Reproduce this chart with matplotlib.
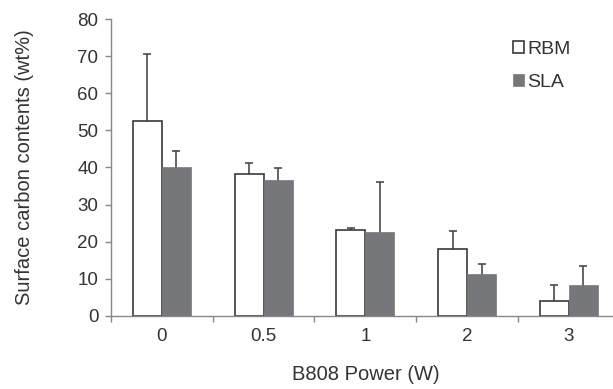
import numpy as np
import matplotlib.pyplot as plt
from matplotlib.ticker import FixedLocator

plt.rcParams['font.family'] = ['Liberation Sans', 'DejaVu Sans']

powers = ['0', '0.5', '1', '2', '3']
rbm = [52.5, 38.3, 23.2, 17.9, 4.0]
rbm_err = [18.1, 3.0, 0.4, 5.1, 4.4]
sla = [40.2, 36.6, 22.5, 11.4, 8.2]
sla_err = [4.2, 3.2, 13.7, 2.5, 5.3]

fig = plt.figure(figsize=(6.13, 3.89), dpi=100)
ax = fig.add_axes([0.181, 0.188, 0.83, 0.763])

x = np.arange(len(powers))
w = 0.285
txt = '#333333'
edge = '#3a3a3a'
ecol = '#4a4a4a'
ekw = dict(fmt='none', ecolor=ecol, elinewidth=1.2, capsize=3, capthick=1.2, zorder=1)

ax.bar(x - w / 2, rbm, w, color='white', edgecolor=edge, linewidth=1.2, label='RBM', zorder=2)
ax.bar(x + w / 2, sla, w, color='#76777b', edgecolor='#76777b', linewidth=0.5, label='SLA', zorder=2)
# only the upper half of each error bar shows, the rest sits behind the bar
ax.errorbar(x - w / 2, rbm, yerr=rbm_err, **ekw)
ax.errorbar(x + w / 2, sla, yerr=sla_err, **ekw)

ax.set_xlim(-0.5, 4.5)
ax.set_ylim(0, 80)
ax.set_yticks(range(0, 81, 10))
ax.set_xticks(x)
ax.set_xticklabels(powers)
ax.xaxis.set_minor_locator(FixedLocator(np.arange(-0.5, 4.6, 1)))
ax.tick_params(axis='x', which='major', length=0, pad=9, labelsize=13.5, labelcolor=txt)
ax.tick_params(axis='x', which='minor', length=4, color='#888888', width=1)
ax.tick_params(axis='y', length=4, color='#888888', width=1, labelsize=13.5, labelcolor=txt, pad=5)

for s in ['top', 'right']:
    ax.spines[s].set_visible(False)
for s in ['left', 'bottom']:
    ax.spines[s].set_color('#888888')
    ax.spines[s].set_linewidth(1)

ax.set_xlabel('B808 Power (W)', fontsize=14.5, color=txt, labelpad=14)
ax.set_ylabel('Surface carbon contents (wt%)', fontsize=14.5, color=txt, labelpad=31)

ax.legend(loc='upper left', bbox_to_anchor=(0.755, 0.985), frameon=False, fontsize=14,
          handlelength=0.6, handleheight=0.6, handletextpad=0.15, labelspacing=0.8,
          labelcolor=txt)

fig.savefig('out.png', dpi=100)
